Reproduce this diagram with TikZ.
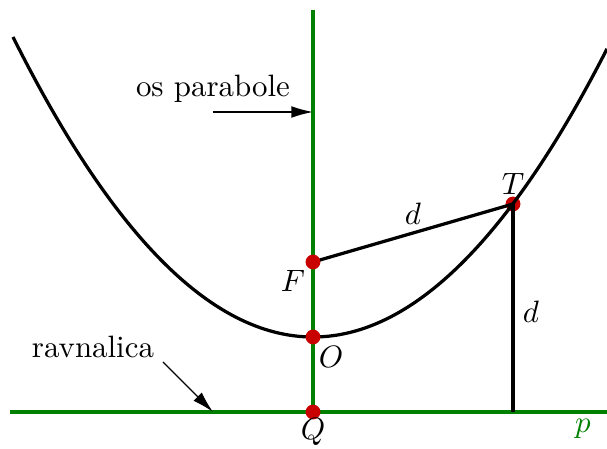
\documentclass[tikz,border=0pt]{standalone}
\usetikzlibrary{arrows.meta}
\definecolor{axgreen}{RGB}{0,128,0}
\definecolor{dotred}{RGB}{200,0,0}
\begin{document}
\begin{tikzpicture}[x=0.3236pt,y=-0.3236pt,
  curve/.style={line width=1.05pt,black},
  gline/.style={line width=1.05pt,axgreen},
  pt/.style={circle,fill=dotred,inner sep=0pt,minimum size=4.8pt},
  lab/.style={inner sep=0pt},
  pointer/.style={line width=0.45pt,-{Latex[length=7pt,width=3.8pt]}}]
\useasboundingbox (0,0) rectangle (607,449);
% key points
\coordinate (AT) at (313,10);
\coordinate (DL) at (10,412);
\coordinate (DR) at (607,412);
\coordinate (P) at (513,412);
\coordinate (F) at (313,262);
\coordinate (O) at (313,337);
\coordinate (Q) at (313,412);
\coordinate (T) at (513,204);
% axis and directrix
\draw[gline] (AT) -- (Q);
\draw[gline] (DL) -- (DR);
% point T lies under the lines through it
\node[pt] (nT) at (T) {};
% parabola
\draw[curve] plot[domain=-300:294,samples=120,smooth] ({313+\x},{337-(\x/10)*(\x/10)/3});
% segments
\draw[curve] (F) -- (nT.center);
\draw[curve] (nT.center) -- (P);
% other dots
\node[pt] (nF) at (F) {};
\node[pt] (nO) at (O) {};
\node[pt] (nQ) at (Q) {};
% labels
\node[lab] at (413,214) {$d$};
\node[lab] at (293,281) {$F$};
\node[lab] at (331,357) {$O$};
\node[lab] at (313,432) {$Q$};
\node[lab] at (513,184) {$T$};
\node[lab] at (531,312) {$d$};
\node[lab,text=axgreen] at (583,429) {$p$};
% annotations
\node[lab] (osp) at (213,89) {os parabole};
\coordinate (osA) at (213,112);
\coordinate (osB) at (313,112);
\draw[pointer] (osA) -- (osB);
\node[lab] (rav) at (93,347) {ravnalica};
\coordinate (rvA) at (163,362);
\coordinate (rvB) at (213,412);
\draw[pointer] (rvA) -- (rvB);
\end{tikzpicture}
\end{document}
